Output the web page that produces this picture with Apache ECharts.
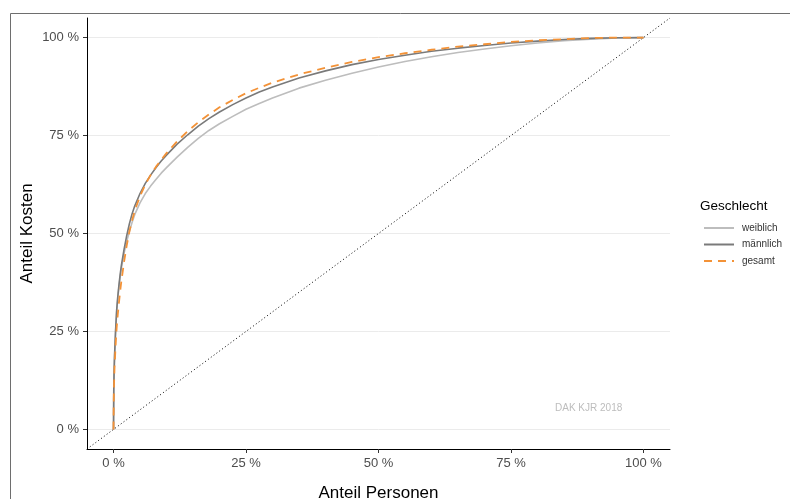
<!DOCTYPE html>
<html>
<head>
<meta charset="utf-8">
<script src="https://cdn.jsdelivr.net/npm/echarts@6/dist/echarts.min.js"></script>
<style>html,body{margin:0;padding:0;background:#fff;}#c{width:790px;height:499px;}</style>
</head>
<body>
<div id="c"></div>
<script>
// Anteil Personen (%)
var personShare = [0, 0.05, 0.1, 0.2, 0.4, 0.6, 0.8, 1, 1.25, 1.5, 2, 2.5, 3, 3.5, 4, 5, 6, 7, 8, 9, 10, 12, 14, 16, 18, 20, 22.5, 25, 27.5, 30, 35, 40, 45, 50, 55, 60, 65, 70, 75, 80, 85, 90, 95, 100];
// Anteil Kosten (%)
var weiblich = [0, 9.5, 13.5, 18.5, 25, 30, 33.3, 36, 38.8, 41.2, 45, 48, 50.5, 52.8, 54.8, 57.8, 60.2, 62.1, 63.8, 65.4, 66.8, 69.5, 72, 74.3, 76.3, 78, 79.9, 81.7, 83.2, 84.6, 87.1, 89.1, 90.9, 92.5, 93.9, 95.1, 96.2, 97.1, 97.9, 98.6, 99.2, 99.6, 99.9, 100];
var maennlich = [0, 10, 14, 19, 25.5, 30.5, 33.8, 36.5, 39.5, 42, 46, 49.5, 52.5, 55, 57, 60.2, 62.8, 64.9, 66.8, 68.5, 70, 72.8, 75.2, 77.4, 79.3, 81, 82.9, 84.6, 86.1, 87.4, 89.7, 91.5, 93.1, 94.4, 95.5, 96.5, 97.3, 98, 98.6, 99.1, 99.5, 99.8, 99.95, 100];
var gesamt = [0, 8, 11.5, 16, 21.5, 26, 29.2, 32, 35.2, 38, 42.8, 47, 50.5, 53.3, 55.8, 59.5, 62.5, 64.9, 67, 68.8, 70.5, 73.5, 76.1, 78.4, 80.4, 82.2, 84.1, 85.8, 87.2, 88.5, 90.6, 92.3, 93.8, 95, 96, 96.9, 97.7, 98.3, 98.9, 99.3, 99.6, 99.9, 100, 100];
var diagonal = [[-5, -5], [105, 105]];
var tickValues = [0, 25, 50, 75, 100];
var seriesNames = ['weiblich', 'männlich', 'gesamt'];

function pairs(ys) { return personShare.map(function (x, i) { return [x, ys[i]]; }); }

var FONT = 'Liberation Sans, Arial, sans-serif';
var chart = echarts.init(document.getElementById('c'), null, {renderer: 'canvas'});
function axis(extra) {
  return Object.assign({
    type: 'value', min: -5, max: 105,
    axisLine: {show: true, onZero: false, lineStyle: {color: '#000', width: 1}},
    axisTick: {show: true, length: 4, customValues: tickValues, lineStyle: {color: '#333', width: 1}},
    axisLabel: {customValues: tickValues, color: '#4d4d4d', fontSize: 13, fontFamily: FONT, margin: 8,
      formatter: function (v) { return v + ' %'; }},
    nameTextStyle: {color: '#000', fontSize: 17, fontFamily: FONT},
    nameLocation: 'middle'
  }, extra);
}
var option = {
  backgroundColor: '#fff',
  animation: false,
  grid: {left: 87, right: 120, top: 18, bottom: 50, containLabel: false, outerBoundsMode: 'none'},
  title: {text: 'Geschlecht', left: 700, top: 199, padding: 0, textStyle: {fontSize: 13.5, fontWeight: 'normal', color: '#000', fontFamily: FONT}},
  legend: {
    data: seriesNames, orient: 'vertical', left: 703, top: 223, padding: 0, itemWidth: 30, itemHeight: 10, itemGap: 6.5,
    itemStyle: {opacity: 0},
    textStyle: {fontSize: 10, color: '#333', fontFamily: FONT, padding: [0, 0, 0, 3]}
  },
  xAxis: axis({name: 'Anteil Personen', nameGap: 36, splitLine: {show: false}}),
  yAxis: axis({name: 'Anteil Kosten', nameGap: 51, nameMoveOverlap: false,
    splitLine: {show: true, customValues: tickValues, lineStyle: {color: '#ebebeb', width: 1}}}),
  graphic: [
    {type: 'rect', left: 8, top: 11, shape: {x: 0, y: 0, width: 900, height: 600}, style: {fill: 'none', stroke: '#6e6e6e', lineWidth: 1}, silent: true},
    {type: 'text', left: 555, top: 403, style: {text: 'DAK KJR 2018', fill: '#bdbdbd', fontSize: 10, fontFamily: FONT}}
  ],
  series: [
    {name: 'diagonal', type: 'line', data: diagonal, symbol: 'none', silent: true,
     lineStyle: {color: '#000', width: 1, type: [1, 2.5]}, z: 1},
    {name: 'weiblich', type: 'line', data: pairs(weiblich), symbol: 'none',
     lineStyle: {color: '#bdbdbd', width: 1.6}, itemStyle: {color: '#bdbdbd'}, z: 2},
    {name: 'männlich', type: 'line', data: pairs(maennlich), symbol: 'none',
     lineStyle: {color: '#7a7a7a', width: 1.6}, itemStyle: {color: '#7a7a7a'}, z: 3},
    {name: 'gesamt', type: 'line', data: pairs(gesamt), symbol: 'none',
     lineStyle: {color: '#f39237', width: 1.8, type: [8, 6]}, itemStyle: {color: '#f39237'}, z: 4}
  ]
};
chart.setOption(option);
</script>
</body>
</html>
